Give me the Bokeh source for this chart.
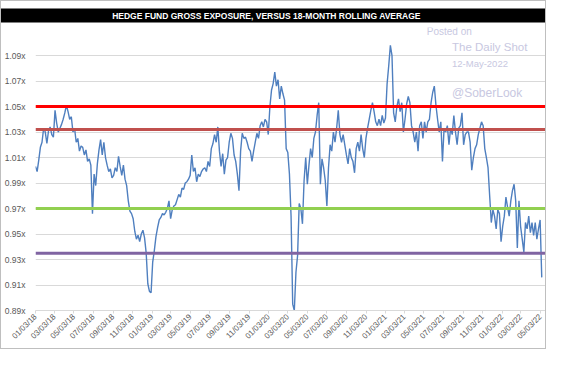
import pandas as pd
from bokeh.plotting import figure
from bokeh.models import (FixedTicker, PrintfTickFormatter, DatetimeTickFormatter,
                          Span, Label, ColumnDataSource)
from bokeh.embed import file_html
from bokeh.resources import INLINE
from math import pi

# ---------------- data ----------------
title_text = "HEDGE FUND GROSS EXPOSURE, VERSUS 18-MONTH ROLLING AVERAGE"
start_date = "2018-01-03"
end_date = "2022-05-07"

exposure = [
    1.003, 0.999, 1.008, 1.018, 1.022, 1.033, 1.030, 1.021, 1.031, 1.034,
    1.028, 1.026, 1.047, 1.037, 1.030, 1.033, 1.036, 1.040, 1.045, 1.051,
    1.046, 1.040, 1.042, 1.030, 1.033, 1.022, 1.025, 1.015, 1.019, 1.018,
    1.012, 1.016, 1.007, 1.009, 1.004, 0.966, 0.997, 0.988, 1.005, 1.016,
    1.024, 1.012, 1.022, 1.010, 1.004, 0.999, 1.001, 0.994, 0.996, 1.002,
    0.999, 1.011, 1.003, 0.996, 1.004, 0.993, 0.988, 0.976, 0.968, 0.966,
    0.962, 0.952, 0.946, 0.949, 0.944, 0.950, 0.953, 0.947, 0.935, 0.911,
    0.905, 0.904, 0.928, 0.937, 0.948, 0.955, 0.961, 0.963, 0.966, 0.965,
    0.967, 0.970, 0.976, 0.962, 0.969, 0.972, 0.973, 0.977, 0.981, 0.979,
    0.986, 0.985, 0.990, 0.991, 0.993, 0.996, 1.012, 0.999, 1.002, 0.991,
    0.997, 0.995, 0.999, 1.001, 1.002, 0.999, 1.007, 1.003, 1.017, 1.021,
    1.028, 1.022, 1.034, 1.015, 1.003, 1.013, 0.997, 1.008, 1.010, 1.022,
    1.029, 1.025, 1.012, 1.007, 0.997, 0.984, 1.015, 1.029, 1.025, 1.026,
    1.022, 1.017, 1.015, 1.007, 1.015, 1.022, 1.029, 1.025, 1.035, 1.038,
    1.034, 1.040, 1.038, 1.028, 1.050, 1.063, 1.068, 1.077, 1.066, 1.071,
    1.056, 1.066, 1.060, 1.055, 1.017, 1.014, 0.997, 0.964, 0.895, 0.890,
    0.920, 0.933, 0.974, 0.970, 0.958, 0.992, 1.010, 0.989, 1.004, 1.017,
    1.010, 1.025, 1.030, 1.043, 1.053, 0.989, 1.009, 1.002, 0.992, 0.972,
    1.002, 1.020, 1.015, 1.030, 1.022, 1.033, 1.047, 1.028, 1.022, 1.028,
    1.020, 1.012, 1.005, 1.017, 1.010, 1.007, 0.998, 1.017, 1.022, 1.015,
    1.028, 1.017, 1.010, 1.025, 1.033, 1.040, 1.047, 1.053, 1.046, 1.038,
    1.035, 1.040, 1.035, 1.043, 1.037, 1.041, 1.068, 1.082, 1.098, 1.090,
    1.045, 1.038, 1.050, 1.056, 1.046, 1.053, 1.030, 1.040, 1.052, 1.058,
    1.053, 1.035, 1.030, 1.022, 1.030, 1.015, 1.035, 1.038, 1.025, 1.038,
    1.030, 1.038, 1.040, 1.053, 1.061, 1.066, 1.051, 1.040, 1.030, 1.038,
    1.007, 1.033, 1.030, 1.035, 1.020, 1.033, 1.028, 1.043, 1.030, 1.020,
    1.033, 1.035, 1.045, 1.020, 1.028, 1.030, 1.030, 1.022, 1.000, 1.010,
    1.017, 1.020, 1.028, 1.033, 1.038, 1.035, 1.017, 1.010, 1.002, 0.980,
    0.959, 0.969, 0.964, 0.954, 0.969, 0.966, 0.944, 0.956, 0.964, 0.979,
    0.971, 0.964, 0.976, 0.984, 0.989, 0.976, 0.939, 0.976, 0.956, 0.946,
    0.936, 0.959, 0.954, 0.964, 0.951, 0.959, 0.949, 0.959, 0.946, 0.954,
    0.961, 0.916,
]

level_values = [1.05, 1.032, 0.97, 0.935]
level_colors = ["#ff0000", "#c0504d", "#92d050", "#8064a2"]

y_ticks = [0.89, 0.91, 0.93, 0.95, 0.97, 0.99, 1.01, 1.03, 1.05, 1.07, 1.09]

x_tick_dates = [
    "2018-01-03", "2018-03-03", "2018-05-03", "2018-07-03", "2018-09-03", "2018-11-03",
    "2019-01-03", "2019-03-03", "2019-05-03", "2019-07-03", "2019-09-03", "2019-11-03",
    "2020-01-03", "2020-03-03", "2020-05-03", "2020-07-03", "2020-09-03", "2020-11-03",
    "2021-01-03", "2021-03-03", "2021-05-03", "2021-07-03", "2021-09-03", "2021-11-03",
    "2022-01-03", "2022-03-03", "2022-05-03",
]

watermark_texts = ["Posted on", "The Daily Shot", "12-May-2022", "@SoberLook"]
watermark_dates = ["2021-05-12", "2021-07-30", "2021-07-30", "2021-07-30"]
watermark_values = [1.1085, 1.097, 1.084, 1.061]
watermark_sizes = ["10px", "11.5px", "9.5px", "12px"]

# ---------------- build ----------------
dates = pd.date_range(start_date, end_date, periods=len(exposure))
src = ColumnDataSource(data=dict(date=dates, value=exposure))

epoch = pd.Timestamp("1970-01-01")
tick_ms = [int((pd.Timestamp(d) - epoch) / pd.Timedelta("1ms")) for d in x_tick_dates]

FONT = "Liberation Sans"

p = figure(width=546, height=349, x_axis_type="datetime",
           y_range=(0.89, 1.112),
           x_range=(pd.Timestamp("2018-01-03"), pd.Timestamp("2022-05-25")),
           output_backend="svg", toolbar_location=None,
           min_border_left=33, min_border_right=0, min_border_top=15, min_border_bottom=40)

p.title.text = title_text
p.title.align = "center"
p.title.text_color = "white"
p.title.text_font = FONT
p.title.text_font_size = "8.5px"
p.title.text_font_style = "bold"
p.title.background_fill_color = "black"
p.title.padding = dict(left=300, right=350, top=2, bottom=2)

p.line("date", "value", source=src, line_color="#4f7fbf", line_width=1.4)

for v, c in zip(level_values, level_colors):
    p.add_layout(Span(location=v, dimension="width", line_color=c, line_width=3))

for t, d, v, s in zip(watermark_texts, watermark_dates, watermark_values, watermark_sizes):
    p.add_layout(Label(x=pd.Timestamp(d), y=v, text=t, text_font=FONT, text_font_size=s,
                       text_color="#c8c8e1", text_baseline="middle", text_align="left"))

p.xgrid.grid_line_color = None
p.ygrid.grid_line_color = "#d9d9d9"
p.ygrid.ticker = FixedTicker(ticks=y_ticks)

p.yaxis.ticker = FixedTicker(ticks=y_ticks)
p.yaxis.formatter = PrintfTickFormatter(format="%.2fx")
p.yaxis.axis_line_color = None
p.yaxis.major_tick_line_color = None
p.yaxis.minor_tick_line_color = None
p.yaxis.major_label_text_color = "#595959"
p.yaxis.major_label_text_font = FONT
p.yaxis.major_label_text_font_size = "8.5px"
p.yaxis.major_label_standoff = 4

fmt = "%m/%d/%y"
p.xaxis.ticker = FixedTicker(ticks=tick_ms)
p.xaxis.formatter = DatetimeTickFormatter(
    milliseconds=fmt, seconds=fmt, minsec=fmt, minutes=fmt, hourmin=fmt, hours=fmt,
    days=fmt, months=fmt, years=fmt, strip_leading_zeros=False)
p.xaxis.major_label_orientation = pi / 4
p.xaxis.axis_line_color = "#d9d9d9"
p.xaxis.major_tick_line_color = "#d9d9d9"
p.xaxis.major_tick_out = 3
p.xaxis.major_tick_in = 0
p.xaxis.minor_tick_line_color = None
p.xaxis.major_label_text_color = "#595959"
p.xaxis.major_label_text_font = FONT
p.xaxis.major_label_text_font_size = "8px"
p.xaxis.major_label_standoff = 2

p.outline_line_color = None
p.styles = {"border": "1px solid #bfbfbf"}

open("out.html", "w").write(file_html(p, INLINE))
